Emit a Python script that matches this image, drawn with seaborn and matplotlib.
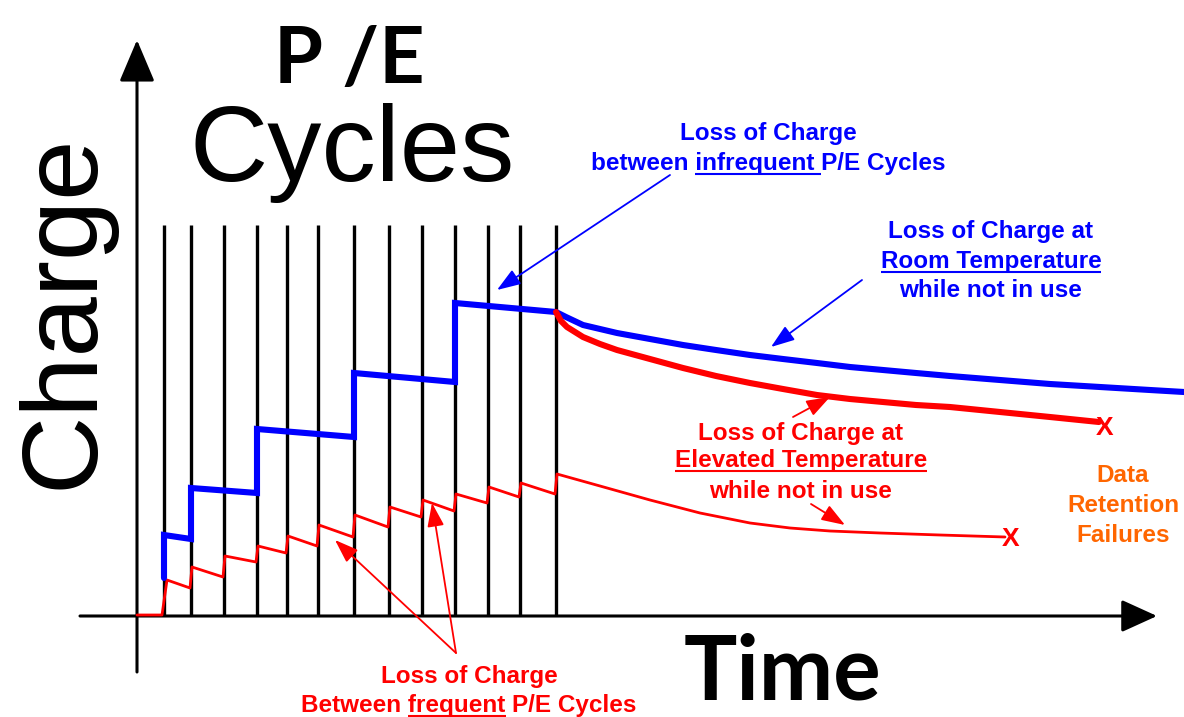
import matplotlib
matplotlib.use("Agg")
import matplotlib.pyplot as plt
import seaborn as sns

# ---------------- data (time / charge units, origin at axis crossing) ----------------
pe_cycle_times = [27, 54, 87, 120, 150, 181, 217, 252, 285, 318, 351, 383, 419]
pe_line_top = 391

# infrequent P/E cycling, then retention at room temperature (blue)
blue_time = [27, 27, 54, 54, 120, 120, 217, 217, 318, 318, 419,
             429, 446, 463, 480, 513, 546, 579, 613, 646, 680, 713, 746,
             779, 813, 863, 913, 963, 1013, 1047]
blue_charge = [38, 81, 77, 128, 123, 187, 179, 243, 234, 313, 304,
               299, 291, 287, 283, 277, 271, 266, 261, 257, 253, 249, 246,
               243, 240, 236, 232, 229, 226, 224]

# retention at elevated temperature (thick red)
hot_time = [419, 424, 430, 438, 446, 463, 480, 513, 546, 579, 613, 646, 680,
            713, 746, 779, 813, 863, 913, 962]
hot_charge = [304, 295, 289, 284, 279, 272, 266, 257, 248, 240, 233, 227, 221,
              217, 214, 211, 209, 204, 199, 194]

# frequent P/E cycling then retention (thin red)
freq_time = [0, 25, 30, 53, 55, 86, 88, 119, 121, 149, 151, 180, 182, 216, 218,
             251, 253, 284, 286, 317, 319, 350, 352, 382, 384, 418, 420,
             463, 513, 563, 583, 613, 653, 693, 743, 803, 868]
freq_charge = [1, 1, 36, 28, 49, 39, 60, 54, 70, 63, 80, 70, 91, 79, 101,
               89, 109, 99, 116, 105, 122, 113, 129, 119, 133, 122, 142,
               130, 116, 103, 99, 93, 88, 85, 83, 81, 79]

# failure markers
fail_time = [968, 874]
fail_charge = [188, 77]

# ---------------- style ----------------
sns.set_theme(style="white")
plt.rcParams["font.family"] = ["Liberation Sans", "DejaVu Sans"]

BLUE = "#0000FF"
RED = "#FF0000"
ORANGE = "#FF6600"

fig = plt.figure(figsize=(11.84, 7.17), dpi=100)
ax = fig.add_axes([0, 0, 1, 1])
ax.set_xlim(-137, 1047)
ax.set_ylim(-101, 616)
ax.set_axis_off()

# axes with arrows
ax.annotate("", xy=(0, 576), xytext=(0, -56),
            arrowprops=dict(arrowstyle="-|>,head_length=1.3,head_width=0.55",
                            mutation_scale=20, lw=2.2, color="black",
                            shrinkA=0, shrinkB=0))
ax.annotate("", xy=(1020, 0), xytext=(-57, 0),
            arrowprops=dict(arrowstyle="-|>,head_length=1.1,head_width=0.5",
                            mutation_scale=20, lw=2.2, color="black",
                            shrinkA=0, shrinkB=0))

# P/E cycle lines
ax.vlines(pe_cycle_times, 0, pe_line_top, colors="black", lw=2.4, zorder=2)

# curves
sns.lineplot(x=freq_time, y=freq_charge, sort=False, estimator=None, color=RED,
             lw=2.0, ax=ax, legend=False, zorder=3)
sns.lineplot(x=blue_time, y=blue_charge, sort=False, estimator=None, color=BLUE,
             lw=4.4, ax=ax, legend=False, zorder=4, solid_joinstyle="miter")
sns.lineplot(x=hot_time, y=hot_charge, sort=False, estimator=None, color=RED,
             lw=4.4, ax=ax, legend=False, zorder=5, solid_capstyle="round")

for t, q in zip(fail_time, fail_charge):
    ax.text(t, q, "X", color=RED, fontsize=19, fontweight="bold",
            ha="center", va="center", zorder=6)

# big labels
ax.text(212, 533, "P /E", fontsize=57, fontweight="bold", family=["Lato", "DejaVu Sans"],
        ha="center", va="baseline", color="black")
ax.text(215, 435, "Cycles", fontsize=78, ha="center", va="baseline", color="black")
ax.text(-44, 305, "Charge", fontsize=78, rotation=90, rotation_mode="anchor",
        ha="center", va="baseline", color="black")
ax.text(645, -84, "Time", fontsize=64, fontweight="bold", family=["Lato", "DejaVu Sans"],
        ha="center", va="baseline", color="black")

# ---------------- annotation text with underlines ----------------
renderer = fig.canvas.get_renderer()
FS = 17.5


def ink_width(s):
    tt = ax.text(0, 0, s, fontsize=FS, fontweight="bold")
    w = tt.get_window_extent(renderer).width
    tt.remove()
    return w


def advance(s):
    return ink_width(s + "|") - ink_width("|")


def text_line(x, y, parts, color):
    full = "".join(p for p, _ in parts)
    ax.text(x, y, full, fontsize=FS, fontweight="bold", color=color,
            ha="center", va="baseline", zorder=7)
    to_disp = ax.transData
    to_data = ax.transData.inverted()
    cx, cy = to_disp.transform((x, y))
    left = cx - ink_width(full) / 2
    prefix = ""
    for seg, ul in parts:
        if ul:
            x0 = left + advance(prefix)
            x1 = x0 + (advance(seg) if seg.endswith(" ") else ink_width(seg))
            (d0, yy), (d1, _) = to_data.transform([(x0, cy - 3.5), (x1, cy - 3.5)])
            ax.plot([d0, d1], [yy, yy], color=color, lw=1.5, zorder=7,
                    solid_capstyle="butt")
        prefix += seg


text_line(631, 476, [("Loss of Charge", False)], BLUE)
text_line(631, 446, [("between ", False), ("infrequent ", True), ("P/E Cycles", False)], BLUE)

text_line(854, 378, [("Loss of Charge at", False)], BLUE)
text_line(854, 348, [("Room Temperature", True)], BLUE)
text_line(854, 319, [("while not in use", False)], BLUE)

text_line(664, 176, [("Loss of Charge at", False)], RED)
text_line(664, 149, [("Elevated Temperature", True)], RED)
text_line(664, 118, [("while not in use", False)], RED)

text_line(986, 134, [("Data", False)], ORANGE)
text_line(986, 104, [("Retention", False)], ORANGE)
text_line(986, 74, [("Failures", False)], ORANGE)

text_line(332, -67, [("Loss of Charge", False)], RED)
text_line(332, -96, [("Between ", False), ("frequent", True), (" P/E Cycles", False)], RED)

# annotation arrows (tail -> tip)
arrows = [
    ((533, 441), (360, 326), BLUE),
    ((725, 336), (634, 269), BLUE),
    ((656, 199), (693, 219), RED),
    ((674, 112), (708, 91), RED),
    ((319, -37), (198, 76), RED),
    ((319, -37), (295, 113), RED),
]
for tail, tip, col in arrows:
    ax.annotate("", xy=tip, xytext=tail,
                arrowprops=dict(arrowstyle="-|>,head_length=0.9,head_width=0.32",
                                mutation_scale=16, lw=1.3, color=col,
                                shrinkA=0, shrinkB=0), zorder=8)

fig.savefig("out.png", dpi=100)
